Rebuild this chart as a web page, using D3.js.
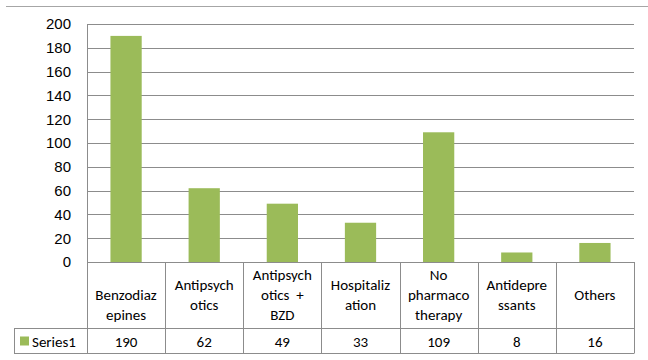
<!DOCTYPE html>
<html>
<head>
<meta charset="utf-8">
<script src="https://cdn.jsdelivr.net/npm/d3@7"></script>
<style>
  html, body { margin: 0; padding: 0; background: #fff; }
  svg { display: block; font-family: Carlito, Lato, "Open Sans", sans-serif; }
</style>
</head>
<body>
<svg id="chart" width="648" height="360"></svg>
<script>
// Treatment categories (wrapped as they appear in the data table header)
const categories = [
  "Benzodiazepines", "Antipsychotics", "Antipsychotics + BZD", "Hospitalization",
  "No pharmacotherapy", "Antidepressants", "Others"
];
const categoryLines = [
  ["", "Benzodiaz", "epines"],
  ["Antipsych", "otics"],
  ["Antipsych", "otics  +", "BZD"],
  ["Hospitaliz", "ation"],
  ["No", "pharmaco", "therapy"],
  ["Antidepre", "ssants"],
  ["Others"]
];
const seriesName = "Series1";
const values = [190, 62, 49, 33, 109, 8, 16];
const yTicks = [0, 20, 40, 60, 80, 100, 120, 140, 160, 180, 200];

const svg = d3.select("#chart");
const plot = { left: 87, right: 634, top: 24, bottom: 262 };
const table = { headerBottom: 328, rowBottom: 353, legendLeft: 14 };
const gridColor = "#8c8c8c";
const barColor = "#9bbb59";
const fontSize = 15;

const x = d3.scaleBand().domain(categories).range([plot.left, plot.right]).paddingInner(0.6).paddingOuter(0.3);
const xCell = d3.scaleBand().domain(categories).range([plot.left, plot.right]);
const y = d3.scaleLinear().domain([0, 200]).range([plot.bottom, plot.top]);

// frame top edge
svg.append("line").attr("x1", 6).attr("x2", 648).attr("y1", 6.5).attr("y2", 6.5)
  .attr("stroke", "#a6a6a6").attr("stroke-width", 1.2);

// gridlines
svg.append("g").selectAll("line").data(yTicks.filter(d => d > 0)).join("line")
  .attr("x1", plot.left).attr("x2", plot.right)
  .attr("y1", d => Math.round(y(d)) + 0.5).attr("y2", d => Math.round(y(d)) + 0.5)
  .attr("stroke", gridColor).attr("stroke-width", 1);

// y axis labels
const yAxis = d3.axisLeft(y).tickValues(yTicks).tickSize(0).tickPadding(16);
const yg = svg.append("g").attr("transform", `translate(${plot.left},0)`).call(yAxis);
yg.select(".domain").remove();
yg.selectAll("text").attr("font-size", fontSize).attr("font-family", null).attr("fill", "#000");

// bars
svg.append("g").selectAll("rect").data(values).join("rect")
  .attr("x", (d, i) => x(categories[i]))
  .attr("width", x.bandwidth())
  .attr("y", d => y(d))
  .attr("height", d => y(0) - y(d))
  .attr("fill", barColor);

// data table lines
const tl = svg.append("g").attr("stroke", gridColor).attr("stroke-width", 1);
// baseline / header top
tl.append("line").attr("x1", plot.left).attr("x2", plot.right)
  .attr("y1", plot.bottom + 0.5).attr("y2", plot.bottom + 0.5);
tl.append("line").attr("x1", table.legendLeft).attr("x2", plot.right)
  .attr("y1", table.headerBottom + 0.5).attr("y2", table.headerBottom + 0.5);
tl.append("line").attr("x1", table.legendLeft).attr("x2", plot.right)
  .attr("y1", table.rowBottom + 0.5).attr("y2", table.rowBottom + 0.5);
// value axis line down through the table
tl.append("line").attr("x1", plot.left + 0.5).attr("x2", plot.left + 0.5)
  .attr("y1", plot.top).attr("y2", table.rowBottom + 0.5);
tl.append("line").attr("x1", table.legendLeft + 0.5).attr("x2", table.legendLeft + 0.5)
  .attr("y1", table.headerBottom).attr("y2", table.rowBottom + 0.5);
tl.selectAll(".cell").data(categories).join("line")
  .attr("x1", d => Math.round(xCell(d) + xCell.bandwidth()) + 0.5)
  .attr("x2", d => Math.round(xCell(d) + xCell.bandwidth()) + 0.5)
  .attr("y1", plot.bottom).attr("y2", table.rowBottom + 0.5);

// header labels
const lineH = 20;
const headerMid = (plot.bottom + table.headerBottom) / 2;
const hdr = svg.append("g").attr("font-size", fontSize).attr("fill", "#000").attr("text-anchor", "middle");
categoryLines.forEach((lines, i) => {
  const cx = xCell(categories[i]) + xCell.bandwidth() / 2;
  const y0 = headerMid - (lines.length - 1) * lineH / 2;
  lines.forEach((t, j) => {
    hdr.append("text").attr("x", cx).attr("y", y0 + j * lineH)
      .attr("dominant-baseline", "central").attr("xml:space", "preserve").text(t);
  });
});

// series row
const rowMid = (table.headerBottom + table.rowBottom) / 2 + 1;
svg.append("rect").attr("x", 20).attr("y", rowMid - 5).attr("width", 9).attr("height", 9).attr("fill", barColor);
svg.append("text").attr("x", 32).attr("y", rowMid).attr("dominant-baseline", "central")
  .attr("font-size", fontSize).attr("fill", "#000").text(seriesName);
svg.append("g").attr("font-size", fontSize).attr("fill", "#000").attr("text-anchor", "middle")
  .selectAll("text").data(values).join("text")
  .attr("x", (d, i) => xCell(categories[i]) + xCell.bandwidth() / 2)
  .attr("y", rowMid).attr("dominant-baseline", "central")
  .text(d => d);
</script>
</body>
</html>
